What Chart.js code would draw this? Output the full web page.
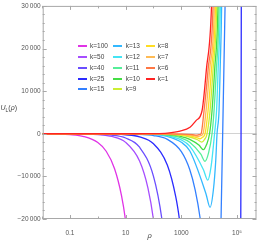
<!DOCTYPE html>
<html>
<head>
<meta charset="utf-8">
<script src="https://cdn.jsdelivr.net/npm/chart.js@4.4.1/dist/chart.umd.min.js"></script>
<style>
  html, body { margin: 0; padding: 0; background: #fff; }
  #wrap { position: relative; width: 258px; height: 240px; font-family: 'Liberation Sans', Arial, sans-serif; }
  #yTitle { position: absolute; left: 0.5px; top: 104px; font-size: 7px; color: #444; white-space: nowrap; }
  #yTitle sub { font-size: 5px; }
  .item { position: absolute; font-size: 6.5px; color: #444; line-height: 8px; white-space: nowrap; }
  .swatch { position: absolute; width: 9px; height: 2px; }
</style>
</head>
<body>
<div id="wrap">
  <canvas id="chart"></canvas>
  <div id="yTitle"><i>U</i><sub>L</sub>(<i>ρ</i>)</div>
  <div id="legend"></div>
</div>
<script>
// curve labels, in legend order
const kLabels = ['k=100', 'k=50', 'k=40', 'k=25', 'k=15', 'k=13', 'k=12', 'k=11', 'k=10', 'k=9', 'k=8', 'k=7', 'k=6', 'k=1'];

// rho / U values, one pair per curve
const rho100 = [0.01, 0.0316, 0.1, 0.316, 1, 2, 4, 7.1, 10, 14];
const u100 = [-20, -65, -205, -650, -2050, -4100, -8200, -14500, -20500, -29000];

const rho50 = [0.01, 0.1, 0.316, 1, 3.16, 10, 31.6, 63, 100, 158];
const u50 = [-2, -20, -64, -200, -640, -2020, -6400, -12700, -20200, -32000];

const rho40 = [0.01, 0.1, 0.316, 1, 3.16, 10, 31.6, 100, 200, 316];
const u40 = [-1, -10, -32, -100, -316, -1000, -3160, -10000, -20000, -31600];

const rho25 = [0.01, 1, 3.16, 10, 31.6, 100, 316, 631, 851, 1260, 10000, 130000, 139300, 145000];
const u25 = [0, -24, -74, -235, -740, -2350, -7400, -14800, -20000, -29600, -200000, -60000, 0, 60000];

const rho15 = [0.01, 10, 31.6, 100, 316, 1000, 2000, 3160, 4786, 6310, 12000, 22590, 26670, 37150, 40000];
const u15 = [0, -42, -130, -420, -1330, -4200, -8400, -13300, -20000, -26500, -60000, -45000, -20000, 30000, 42000];

const rho13 = [0.01, 100, 316, 1000, 2000, 7600, 10740, 14130, 17220, 19140, 22590, 24720, 27990, 29170];
const u13 = [0, -200, -630, -2000, -4000, -14000, -17250, -13200, -6200, 0, 5400, 15000, 30000, 42000];

const rho12 = [0.01, 100, 316, 1000, 2000, 6280, 8872, 11750, 15560, 18370, 20940, 25180, 26420];
const u12 = [0, -145, -460, -1450, -2900, -8500, -10900, -7600, 0, 5400, 15000, 30000, 42000];

const rho11 = [0.01, 100, 316, 1000, 2000, 5010, 7096, 9484, 12650, 14930, 18070, 22750, 23930];
const u11 = [0, -100, -320, -1000, -2000, -4800, -6460, -4500, 0, 5400, 15000, 30000, 42000];

const rho10 = [0.01, 100, 316, 1000, 2000, 4365, 6166, 7962, 10300, 12650, 15700, 20610, 21830];
const u10 = [0, -65, -205, -650, -1300, -2700, -3730, -2600, 0, 5400, 15000, 30000, 42000];

const rho9 = [0.01, 100, 316, 1000, 2000, 3800, 5395, 6730, 8375, 10740, 13740, 18660, 19950];
const u9 = [0, -38, -120, -380, -760, -1400, -1960, -1370, 0, 5400, 15000, 30000, 42000];

const rho8 = [0.01, 100, 316, 1000, 2000, 3311, 4688, 5768, 7096, 9099, 12050, 16900, 18070];
const u8 = [0, -26, -82, -260, -520, -830, -1170, -820, 0, 5400, 15000, 30000, 42000];

const rho7 = [0.01, 100, 316, 1000, 2000, 2884, 4074, 4955, 6012, 7709, 10380, 15310, 16370];
const u7 = [0, -16, -50, -160, -320, -440, -630, -440, 0, 5400, 15000, 30000, 42000];

const rho6 = [0.01, 100, 316, 1000, 2512, 3573, 4266, 5093, 6531, 9099, 13740, 14830];
const u6 = [0, -9, -28, -90, -220, -330, -230, 0, 5400, 15000, 30000, 42000];

const rho1 = [0.01, 10, 100, 316, 898, 2051, 3373, 5534, 7907, 12130, 13300];
const u1 = [0, 0, 30, 150, 620, 1540, 3100, 5400, 15000, 30000, 42000];

// axis ticks
const xTickValues = [0.1, 10, 1000, 100000];
const xTickLabels = ['0.1', '10', '1000', '10⁵'];
const yTickValues = [-20000, -10000, 0, 10000, 20000, 30000];
const yTickLabels = ['−20\u2009000', '−10\u2009000', '0', '10\u2009000', '20\u2009000', '30\u2009000'];

const curves = [
    [rho100, u100], [rho50, u50], [rho40, u40], [rho25, u25], [rho15, u15],
    [rho13, u13], [rho12, u12], [rho11, u11], [rho10, u10], [rho9, u9],
    [rho8, u8], [rho7, u7], [rho6, u6], [rho1, u1]
];

const lineColors = [
    '#e033e6', // k=100 magenta
    '#a64dff', // k=50 violet
    '#6a4dff', // k=40
    '#2b2bff', // k=25 blue
    '#3380ff', // k=15
    '#33b8ff', // k=13 sky
    '#44e4f4', // k=12 cyan
    '#55ee99', // k=11 mint
    '#44dd44', // k=10 green
    '#ccee33', // k=9
    '#ffdd22', // k=8 yellow
    '#ffbb55', // k=7
    '#ff7744', // k=6
    '#ff2222'  // k=1 red
];

const datasets = curves.map(function (c, i) {
    return {
        label: kLabels[i],
        data: c[0].map(function (r, j) { return { x: r, y: c[1][j] }; }),
        borderColor: lineColors[i],
        backgroundColor: lineColors[i],
        borderWidth: 1.3,
        pointRadius: 0,
        fill: false,
        cubicInterpolationMode: 'monotone',
        order: -i // later curves on top, like the original
    };
});

// frame with inward ticks on all four sides
const framePlugin = {
    id: 'frame',
    afterDatasetsDraw(chart) {
        const { ctx, chartArea: a, scales: { x, y } } = chart;
        ctx.save();
        ctx.strokeStyle = '#a8a8a8';
        ctx.lineWidth = 1;
        ctx.strokeRect(a.left + 0.5, a.top + 0.5, a.right - a.left - 1, a.bottom - a.top - 1);
        ctx.beginPath();
        for (let e = -2; e <= 5; e++) {
            const px = Math.round(x.getPixelForValue(Math.pow(10, e))) + 0.5;
            const len = e % 2 !== 0 ? 4 : 2.5;
            ctx.moveTo(px, a.bottom); ctx.lineTo(px, a.bottom - len);
            ctx.moveTo(px, a.top); ctx.lineTo(px, a.top + len);
        }
        for (let v = -20000; v <= 30000; v += 2000) {
            const py = Math.round(y.getPixelForValue(v)) + 0.5;
            const len = v % 10000 === 0 ? 4 : 2;
            ctx.moveTo(a.left, py); ctx.lineTo(a.left + len, py);
            ctx.moveTo(a.right, py); ctx.lineTo(a.right - len, py);
        }
        ctx.stroke();
        ctx.restore();
    }
};

const chart = new Chart(document.getElementById('chart'), {
    type: 'line',
    data: { datasets: datasets },
    options: {
        animation: false,
        responsive: true,
        maintainAspectRatio: false,
        layout: { padding: { top: 4.6, right: 1.5, left: 0, bottom: 0 } },
        elements: { line: { capBezierPoints: false } },
        plugins: {
            legend: { display: false },
            tooltip: { enabled: false }
        },
        scales: {
            x: {
                type: 'logarithmic',
                min: 0.0105,
                max: 500000,
                afterBuildTicks: function (s) { s.ticks = xTickValues.map(function (v) { return { value: v }; }); },
                afterFit: function (s) { s.height = 21; },
                grid: { display: false },
                border: { display: false },
                ticks: {
                    autoSkip: false,
                    maxRotation: 0,
                    padding: 2,
                    color: '#555',
                    font: { family: 'Liberation Sans', size: 6.5 },
                    callback: function (v, i) { return xTickLabels[i]; }
                },
                title: {
                    display: true,
                    text: 'ρ',
                    color: '#444',
                    padding: 0,
                    font: { family: 'Liberation Sans', size: 7.5, style: 'italic' }
                }
            },
            y: {
                min: -20000,
                max: 30000,
                afterBuildTicks: function (s) { s.ticks = yTickValues.map(function (v) { return { value: v }; }); },
                afterFit: function (s) { s.width = 42.7; },
                grid: {
                    drawTicks: false,
                    lineWidth: 1,
                    color: function (c) { return c.tick && c.tick.value === 0 ? '#d2d2d2' : 'rgba(0,0,0,0)'; }
                },
                border: { display: false },
                ticks: {
                    padding: 2,
                    color: '#555',
                    font: { family: 'Liberation Sans', size: 6.5 },
                    callback: function (v, i) { return yTickLabels[i]; }
                }
            }
        }
    },
    plugins: [framePlugin]
});

// legend inside the plot, three columns filled top to bottom
const legendBox = document.getElementById('legend');
const colLineX = [78, 113, 146];
const colTextX = [90, 125.7, 157.7];
kLabels.forEach(function (lab, i) {
    const col = Math.floor(i / 5), row = i % 5;
    const cy = 46.2 + row * 10.8;
    const sw = document.createElement('div');
    sw.className = 'swatch';
    sw.style.left = colLineX[col] + 'px';
    sw.style.top = Math.round(cy - 1) + 'px';
    sw.style.background = lineColors[i];
    const tx = document.createElement('div');
    tx.className = 'item';
    tx.style.left = colTextX[col] + 'px';
    tx.style.top = (cy - 4) + 'px';
    tx.textContent = lab;
    legendBox.appendChild(sw);
    legendBox.appendChild(tx);
});
</script>
</body>
</html>
